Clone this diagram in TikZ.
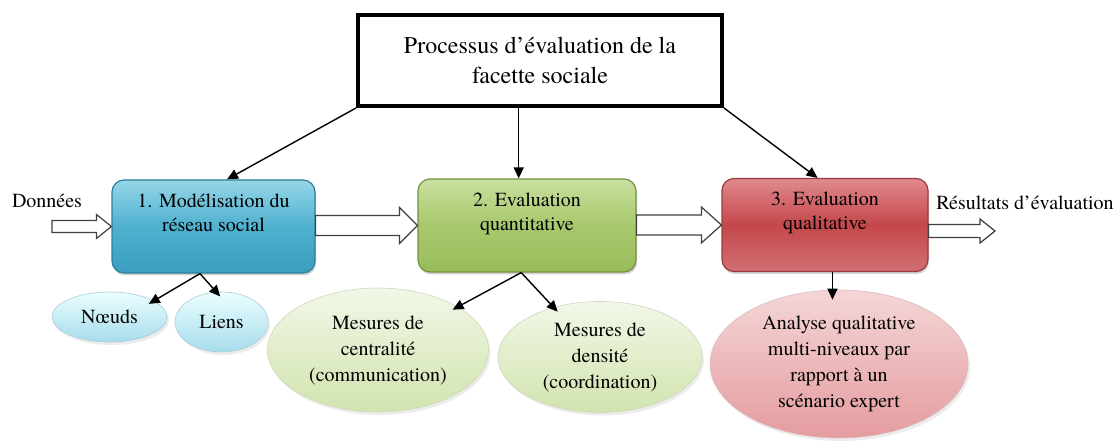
\documentclass[tikz,border=0pt]{standalone}
\usepackage{fontspec}
\setmainfont{TeX Gyre Termes}
\usetikzlibrary{shapes.geometric,shadows,arrows.meta,calc}

\definecolor{bluetop}{HTML}{96D6E8}
\definecolor{bluemid}{HTML}{4EB1CF}
\definecolor{bluebot}{HTML}{3B9DBF}
\definecolor{blueline}{HTML}{2F7F9C}
\definecolor{greentop}{HTML}{C9DFA0}
\definecolor{greenmid}{HTML}{A8C86C}
\definecolor{greenbot}{HTML}{98BC5A}
\definecolor{greenline}{HTML}{72923E}
\definecolor{redtop}{HTML}{E08A8D}
\definecolor{redmid}{HTML}{C4474B}
\definecolor{redbot}{HTML}{D07074}
\definecolor{redline}{HTML}{9C3A3D}

\tikzset{
	stage/.style={rectangle, rounded corners=6pt, minimum height=46.5pt, align=center,
		font=\fontsize{10}{12}\selectfont, text depth=14pt, line width=0.6pt,
		drop shadow={opacity=0.35, shadow xshift=0.5pt, shadow yshift=-1.2pt}},
	leaf/.style={ellipse, inner sep=0pt, align=center, font=\fontsize{10}{13}\selectfont,
		line width=0.3pt, drop shadow={opacity=0.15, shadow xshift=1pt, shadow yshift=-1.5pt}},
	conn/.style={line width=0.7pt, -{Triangle[length=5.5pt,width=5pt]}},
	fatarrow/.style={draw=black!75, line width=0.6pt, fill=white}
}

\newcommand{\fatarrow}[5]{%
	\draw[fatarrow] ($(#1 |- #2)+(0,#3)$) -- ($(#2)+(-#5,#3)$) -- ($(#2)+(-#5,#4)$) -- (#2)
		-- ($(#2)+(-#5,-#4)$) -- ($(#2)+(-#5,-#3)$) -- ($(#1 |- #2)+(0,-#3)$) -- cycle;}

\begin{document}
\begin{tikzpicture}[x=0.5pt, y=-0.5pt]
	\useasboundingbox (0,0) rectangle (1118,443);

	\node [draw, line width=2pt, minimum width=182pt, minimum height=45.5pt, align=center,
		font=\fontsize{12}{15}\selectfont] (top) at (540,60.5)
		{Processus d'évaluation de la \\ facette sociale};

	\node [stage, minimum width=101.5pt, draw=blueline, top color=bluetop, bottom color=bluebot,
		middle color=bluemid] (blue) at (213.5,226.5) {1. Modélisation du \\ réseau social};
	\node [stage, minimum width=109pt, draw=greenline, top color=greentop, bottom color=greenbot,
		middle color=greenmid] (green) at (527,225.5) {2. Evaluation \\ quantitative};
	\node [stage, minimum width=103pt, draw=redline, top color=redtop, bottom color=redbot,
		middle color=redmid] (red) at (825,225) {3. Evaluation \\ qualitative};

	\node [font=\fontsize{10}{12}\selectfont] (donnees) at (47,201) {Données};
	\node [font=\fontsize{10}{12}\selectfont] (resultats) at (1025,203) {Résultats d'évaluation};
	\coordinate (din) at (52,228);
	\coordinate (res) at (995,231);

	\node [leaf, minimum width=57.5pt, minimum height=25pt, draw=blueline!40,
		top color=blue!4!cyan!8, bottom color=bluetop!85] (noeud) at (109.5,317) {Nœuds};
	\node [leaf, minimum width=46.5pt, minimum height=30pt, draw=blueline!40,
		top color=blue!4!cyan!8, bottom color=bluetop!85] (liens) at (221.5,322) {Liens};
	\node [leaf, minimum width=110.5pt, minimum height=62pt, draw=greenline!35,
		top color=greentop!25, bottom color=greentop!85] (cent) at (378,350)
		{Mesures de \\ centralité \\ (communication)};
	\node [leaf, minimum width=102pt, minimum height=55.5pt, draw=greenline!35,
		top color=greentop!25, bottom color=greentop!85] (dens) at (600,357)
		{Mesures de \\ densité \\ (coordination)};
	\node [leaf, minimum width=129pt, minimum height=74pt, draw=redline!35,
		top color=redtop!35, bottom color=redtop!85] (analyse) at (839,364)
		{Analyse qualitative \\ multi-niveaux par \\ rapport à un \\ scénario expert};

	\fatarrow{din}{blue.west}{6}{12}{15}
	\fatarrow{blue.east}{green.west}{10}{18}{18}
	\fatarrow{green.east}{red.west}{10}{18}{20}
	\fatarrow{red.east}{res}{6.5}{12}{15}

	\draw [conn] (top.south west) -- (blue.74);
	\draw [conn] (green.100 |- top.south) -- (green.100);
	\draw [conn] (top.south east) -- (red.99);
	\draw [conn, shorten >=-3pt] (blue.254) -- (noeud.20);
	\draw [conn, shorten >=-3pt] (blue.254) -- (liens.100);
	\draw [conn, shorten >=-3pt] (green.263) -- (cent);
	\draw [conn, shorten >=-3pt] (green.263) -- (dens);
	\draw [conn, shorten >=-5pt] (red.279) -- (red.279 |- analyse.north);
\end{tikzpicture}
\end{document}
